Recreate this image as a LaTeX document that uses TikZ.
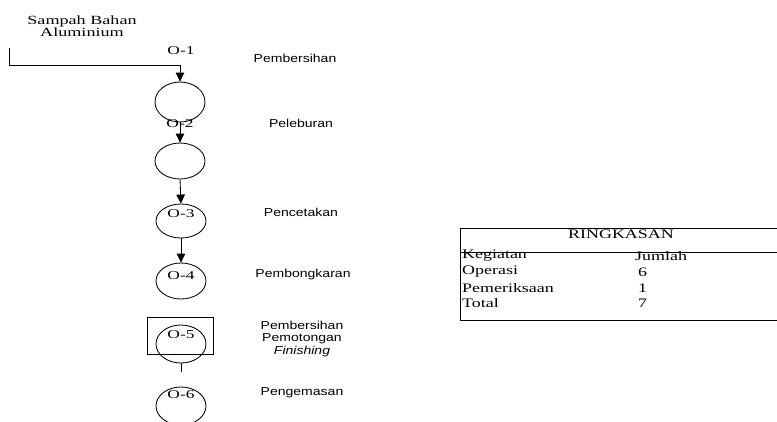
\documentclass[tikz,border=0pt]{standalone}
\usepackage{fontspec}
\usetikzlibrary{arrows.meta,shapes.geometric}
\newfontfamily\srf[FakeStretch=1.45]{Liberation Serif}
\newfontfamily\srt[FakeStretch=1.38]{Liberation Serif}
\newfontfamily\sns[FakeStretch=1.22]{Liberation Sans}
\newfontfamily\snsit[FakeStretch=1.22]{Liberation Sans Italic}
\begin{document}
\begin{tikzpicture}[x=1pt,y=-1pt,
  ln/.style={line width=0.85pt},
  arr/.style={ln,-{Triangle[length=9pt,width=8.5pt]}},
  opel/.style={draw,ln,ellipse,minimum width=50pt,minimum height=38pt,inner sep=0pt},
  olab/.style={inner sep=0pt,font=\srf\fontsize{12}{13}\selectfont},
  slab/.style={inner sep=0pt,align=center,font=\sns\fontsize{11.5}{12.5}\selectfont},
  tlab/.style={inner sep=0pt,anchor=west,font=\srt\fontsize{13}{14}\selectfont},
]
\useasboundingbox (0,0) rectangle (777,421);
% title
\node[olab,align=center,font=\srf\fontsize{12.5}{12.5}\selectfont] (src) at (82,26) {Sampah Bahan\\Aluminium};
% ellipses
\node[opel,minimum height=40pt] (o1) at (180,102) {};
\node[opel,minimum height=36pt] (o2) at (180,161) {};
\node[opel,minimum height=34pt] (o3) at (181,221) {};
\node[opel,minimum height=36pt] (o4) at (181,281) {};
\node[opel] (o5) at (181,344) {};
\node[opel] (o6) at (181,406) {};
\node[draw,ln,minimum width=66pt,minimum height=37pt,inner sep=0pt] (r5) at (180,335.5) {};
% labels O-n
\node[olab] (l1) at (181,51) {O-1};
\node[olab] (l2) at (180,124) {O-2};
\node[olab] (l3) at (181,214) {O-3};
\node[olab] (l4) at (181,276) {O-4};
\node[olab] (l5) at (181,335) {O-5};
\node[olab] (l6) at (181,395) {O-6};
% connectors
\coordinate (in) at (9,48);
\coordinate (bend) at (180,65);
\coordinate (e5) at (181,372);
\draw[arr] (in) |- (bend) -- (o1.north);
\draw[arr] (o1.south) -- (o2.north);
\draw[arr] (o2.south) -- (o3.north);
\draw[arr] (o3.south) -- (o4.north);
\draw[ln] (o5.south) -- (e5);
% step labels
\node[slab] (s1) at (295,58) {Pembersihan};
\node[slab] (s2) at (301,123) {Peleburan};
\node[slab] (s3) at (301,212) {Pencetakan};
\node[slab] (s4) at (303,275) {Pembongkaran};
\node[slab] (s5) at (302,339) {Pembersihan\\Pemotongan\\{\snsit Finishing}};
\node[slab] (s6) at (302,393) {Pengemasan};
% summary table
\coordinate (tl) at (460,228.5);
\coordinate (bl) at (460,320);
\coordinate (tr) at (785,228.5);
\coordinate (br) at (785,320);
\coordinate (hl) at (460,252);
\coordinate (hr) at (785,252);
\node[tlab,anchor=center] (rk) at (621,234) {RINGKASAN};
\draw[line width=0.75pt] (tr) -- (tl) -- (bl) -- (br);
\node[tlab] (k1) at (462,256) {Kegiatan};
\node[tlab] (k2) at (635,256) {Jumlah};
\draw[line width=0.75pt] (hl) -- (hr);
\node[tlab] (r1) at (462,272) {Operasi};
\node[tlab] (r2) at (462,288) {Pemeriksaan};
\node[tlab] (r3) at (462,303) {Total};
\node[tlab] (v1) at (638,272) {6};
\node[tlab] (v2) at (638,288) {1};
\node[tlab] (v3) at (638,303) {7};
\end{tikzpicture}
\end{document}
